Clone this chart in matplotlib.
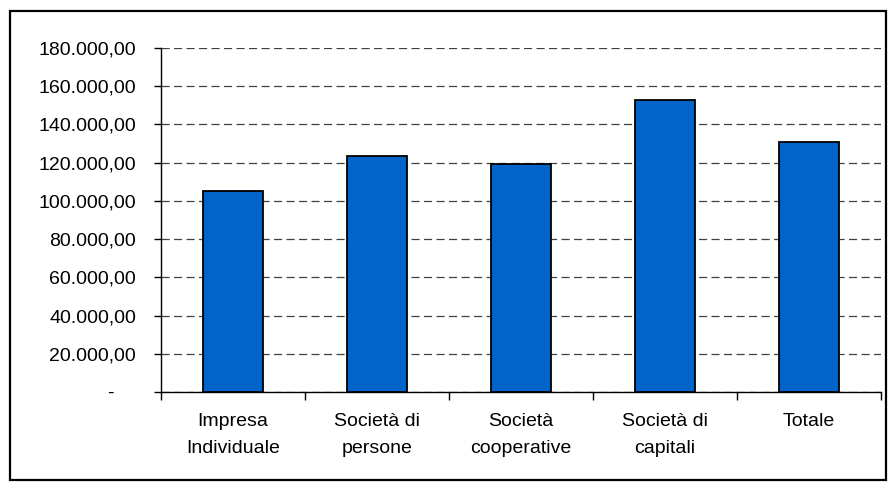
import matplotlib
matplotlib.use("Agg")
import matplotlib.pyplot as plt
from matplotlib.patches import Rectangle
from matplotlib.ticker import FixedLocator, FuncFormatter

categories = ["Impresa\nIndividuale", "Società di\npersone", "Società\ncooperative",
              "Società di\ncapitali", "Totale"]
values = [105300, 123700, 119100, 152800, 130700]
y_ticks = [0, 20000, 40000, 60000, 80000, 100000, 120000, 140000, 160000, 180000]

plt.rcParams["font.family"] = ["Liberation Sans", "DejaVu Sans"]

fig = plt.figure(figsize=(8.88, 4.82), dpi=100)
ax = fig.add_axes([161 / 888, 1 - 392 / 482, (881 - 161) / 888, (392 - 48) / 482])

x = list(range(len(categories)))
ax.bar(x, values, width=0.41, color="#0064C8", edgecolor="black", linewidth=1.3, zorder=3)

ax.set_xlim(-0.5, len(categories) - 0.5)
ax.set_ylim(0, 180000)


def it_fmt(v, pos):
    if v == 0:
        return "-    "
    s = f"{v:,.2f}"
    return s.replace(",", "X").replace(".", ",").replace("X", ".")


ax.yaxis.set_major_locator(FixedLocator(y_ticks))
ax.yaxis.set_major_formatter(FuncFormatter(it_fmt))
ax.yaxis.grid(True, linestyle=(0, (6.5, 3.5)), color="#404040", linewidth=0.9, zorder=0)

ax.set_xticks(x)
ax.set_xticklabels(categories)
for lbl in ax.get_xticklabels():
    lbl.set_linespacing(1.8)
ax.set_xticks([i - 0.5 for i in range(len(categories) + 1)], minor=True)
ax.tick_params(axis="x", which="major", length=0, pad=15, labelsize=14)
ax.tick_params(axis="x", which="minor", length=6, width=1, direction="out")
ax.tick_params(axis="y", length=5, width=1, direction="out", pad=13, labelsize=14)

for side in ("top", "right"):
    ax.spines[side].set_visible(False)
for side in ("left", "bottom"):
    ax.spines[side].set_linewidth(1)

fig.patches.append(Rectangle((10 / 888, 1 - 480 / 482), 876 / 888, 469 / 482,
                             transform=fig.transFigure, fill=False,
                             edgecolor="black", linewidth=1.6))

fig.savefig("out.png", dpi=100)
